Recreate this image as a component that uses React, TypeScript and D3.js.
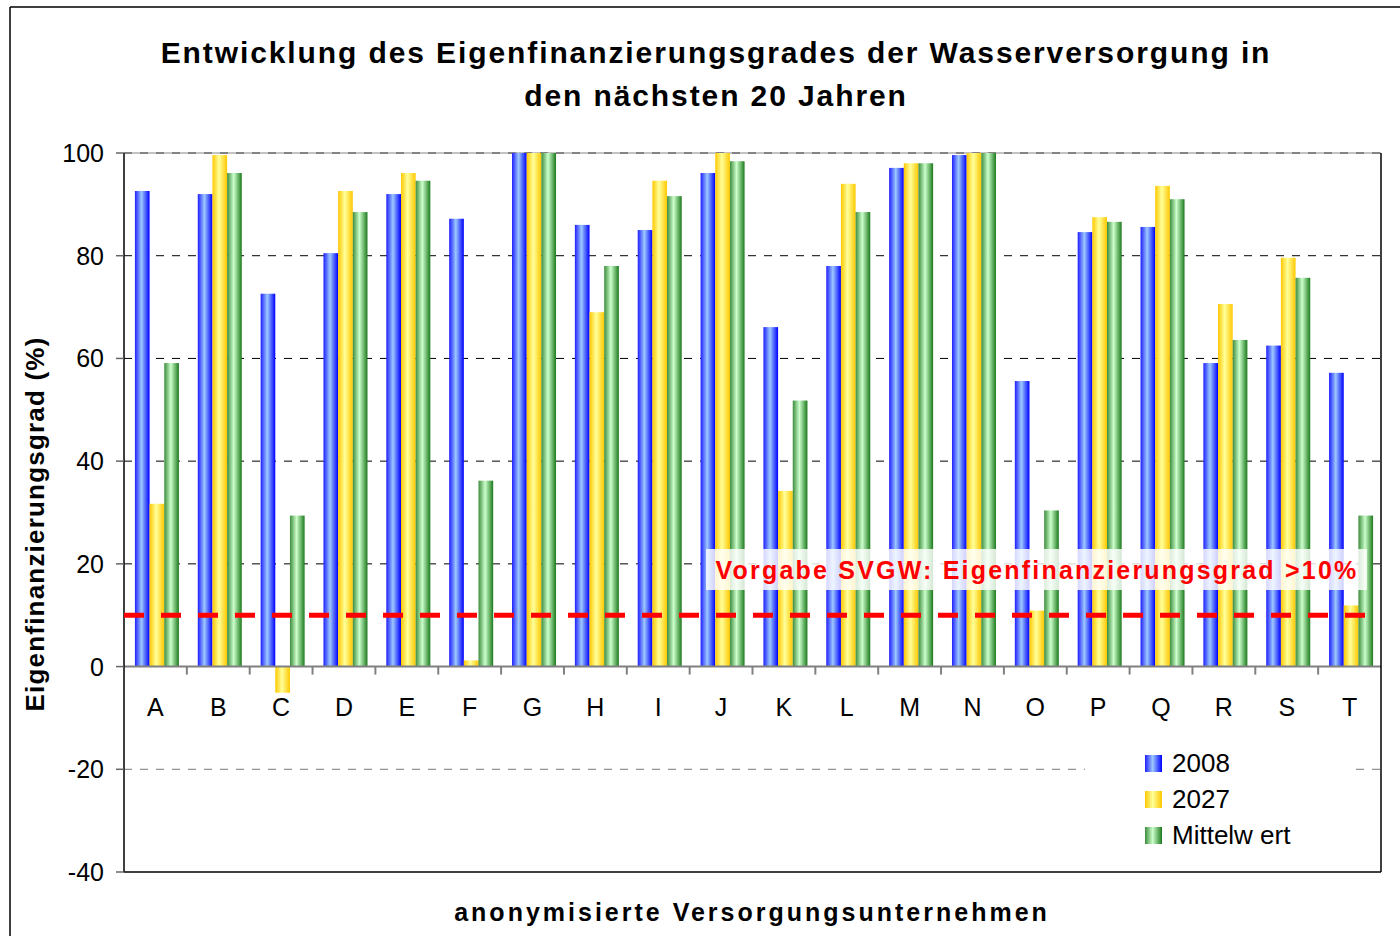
import * as d3 from "d3";

const categories = ["A", "B", "C", "D", "E", "F", "G", "H", "I", "J", "K", "L", "M", "N", "O", "P", "Q", "R", "S", "T"];
const values2008 = [92.6, 92, 72.6, 80.5, 92, 87.2, 100, 86, 85, 96.1, 66.1, 78, 97.1, 99.6, 55.6, 84.6, 85.6, 59.1, 62.5, 57.2];
const values2027 = [31.7, 99.6, -5.1, 92.6, 96.1, 1.2, 100, 69, 94.6, 100, 34.2, 94, 98, 100, 10.9, 87.5, 93.6, 70.6, 79.6, 11.9];
const valuesMittel = [59.1, 96.1, 29.4, 88.5, 94.6, 36.2, 100, 78, 91.6, 98.4, 51.8, 88.5, 98, 100, 30.4, 86.6, 91, 63.6, 75.7, 29.4];
const seriesNames = ["2008", "2027", "Mittelwert"];
const legendLabels = ["2008", "2027", "Mittelw ert"];
const yTicks = [100, 80, 60, 40, 20, 0, -20, -40];
const threshold = 10;

const gradients = [
  { id: "gBlue", stops: ["#1e1eff", "#9cc8ff", "#0000ff"] },
  { id: "gYellow", stops: ["#ffc800", "#ffff9a", "#ffc800"] },
  { id: "gGreen", stops: ["#3c8c3c", "#ccffcc", "#1c7a1c"] },
];

const W = 1400;
const H = 936;
const left = 124;
const right = 1381;
const top = 153;
const bottom = 872;

export default function App() {
  const series = [values2008, values2027, valuesMittel];
  const x0 = d3.scaleBand<string>().domain(categories).range([left, right]).padding(0);
  const groupW = 44;
  const x1 = d3
    .scaleBand<string>()
    .domain(seriesNames)
    .range([(x0.bandwidth() - groupW) / 2 + 1.5, (x0.bandwidth() + groupW) / 2 + 1.5])
    .padding(0);
  const y = d3.scaleLinear().domain([-40, 100]).range([bottom, top]);
  const font = "'Liberation Sans', Arial, sans-serif";

  const boundaries = categories.map((_, i) => left + i * x0.step()).concat([right]);

  return (
    <div style={{ position: "absolute", left: 0, top: 0 }}>
      <svg width={W} height={H} style={{ display: "block", background: "#fff" }}>
        <defs>
          {gradients.map((g) => (
            <linearGradient key={g.id} id={g.id} x1="0" x2="1" y1="0" y2="0">
              <stop offset="0" stopColor={g.stops[0]} />
              <stop offset="0.45" stopColor={g.stops[1]} />
              <stop offset="1" stopColor={g.stops[2]} />
            </linearGradient>
          ))}
        </defs>

        {/* outer frame */}
        <line x1={10} x2={W} y1={7} y2={7} stroke="#000" strokeWidth={1.5} />
        <line x1={10} x2={10} y1={7} y2={H} stroke="#000" strokeWidth={1.5} />

        {/* title */}
        <text x={716} y={63} textAnchor="middle" fontFamily={font} fontWeight="bold" fontSize={30} letterSpacing={1.9}>
          Entwicklung des Eigenfinanzierungsgrades der Wasserversorgung in
        </text>
        <text x={716} y={106} textAnchor="middle" fontFamily={font} fontWeight="bold" fontSize={30} letterSpacing={1.9}>
          den nächsten 20 Jahren
        </text>

        {/* gridlines */}
        {yTicks
          .filter((t) => t !== 0 && t !== -40)
          .map((t) => (
            <line
              key={t}
              x1={left}
              x2={right}
              y1={y(t)}
              y2={y(t)}
              stroke={t < 0 ? "#777" : "#000"}
              strokeWidth={1}
              strokeDasharray="8,8"
            />
          ))}
        <line x1={left} x2={right} y1={top} y2={top} stroke="#888" strokeWidth={1} />

        {/* bars */}
        {categories.map((c, i) => (
          <g key={c} transform={`translate(${x0(c)},0)`}>
            {series.map((s, k) => {
              const v = s[i];
              return (
                <rect
                  key={k}
                  x={x1(seriesNames[k])}
                  width={x1.bandwidth()}
                  y={y(Math.max(0, v))}
                  height={Math.abs(y(v) - y(0))}
                  fill={`url(#${gradients[k].id})`}
                />
              );
            })}
          </g>
        ))}

        {/* zero axis */}
        <line x1={left} x2={right} y1={y(0)} y2={y(0)} stroke="#808080" strokeWidth={2} />
        {boundaries.slice(1, -1).map((bx, i) => (
          <line key={i} x1={bx} x2={bx} y1={y(0)} y2={y(0) + 8} stroke="#808080" strokeWidth={2} />
        ))}
        {categories.map((c) => (
          <text
            key={c}
            x={(x0(c) as number) + x0.bandwidth() / 2}
            y={716}
            textAnchor="middle"
            fontFamily={font}
            fontSize={25}
          >
            {c}
          </text>
        ))}

        {/* plot frame */}
        <line x1={left} x2={left} y1={top} y2={bottom} stroke="#000" strokeWidth={1.5} />
        <line x1={right} x2={right} y1={top} y2={bottom} stroke="#000" strokeWidth={1.5} />
        <line x1={left} x2={right} y1={bottom} y2={bottom} stroke="#000" strokeWidth={1.5} />

        {/* y axis */}
        {yTicks.map((t) => (
          <g key={t}>
            <line x1={left - 8} x2={left} y1={y(t)} y2={y(t)} stroke="#666" strokeWidth={1.5} />
            <text x={104} y={y(t) + 9} textAnchor="end" fontFamily={font} fontSize={25}>
              {t}
            </text>
          </g>
        ))}
        <text
          transform={`translate(44,524) rotate(-90)`}
          textAnchor="middle"
          fontFamily={font}
          fontWeight="bold"
          fontSize={26}
          letterSpacing={1.2}
        >
          Eigenfinanzierungsgrad (%)
        </text>

        {/* x axis title */}
        <text
          x={752}
          y={921}
          textAnchor="middle"
          fontFamily={font}
          fontWeight="bold"
          fontSize={25}
          letterSpacing={3}
        >
          anonymisierte Versorgungsunternehmen
        </text>

        {/* threshold line */}
        <line
          x1={left}
          x2={1366}
          y1={y(threshold)}
          y2={y(threshold)}
          stroke="#ff0000"
          strokeWidth={5}
          strokeDasharray="20,17"
        />

        {/* annotation */}
        <rect x={706} y={549} width={661} height={41} fill="#fff" fillOpacity={0.82} />
        <text
          x={1037}
          y={579}
          textAnchor="middle"
          fontFamily={font}
          fontWeight="bold"
          fontSize={25}
          letterSpacing={2.2}
          fill="#ff0000"
        >
          Vorgabe SVGW: Eigenfinanzierungsgrad &gt;10%
        </text>

        {/* legend */}
        <rect x={1085} y={745} width={267} height={110} fill="#fff" />
        {legendLabels.map((l, i) => (
          <g key={l} transform={`translate(1145,${763 + i * 36})`}>
            <rect x={0} y={-8} width={17} height={17} fill={`url(#${gradients[i].id})`} />
            <text x={27} y={9} fontFamily={font} fontSize={26}>
              {l}
            </text>
          </g>
        ))}
      </svg>
    </div>
  );
}
